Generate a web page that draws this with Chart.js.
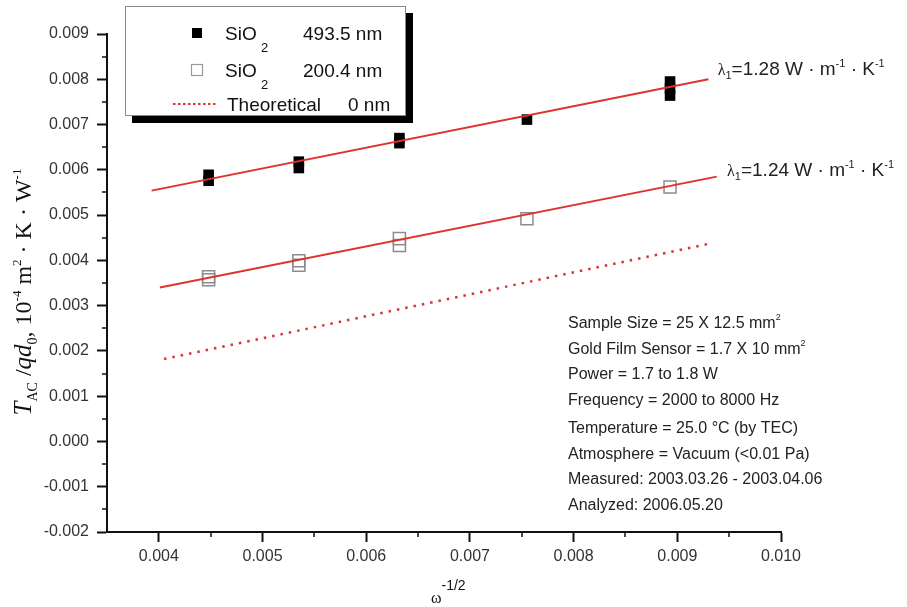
<!DOCTYPE html>
<html lang="en">
<head>
  <meta charset="UTF-8">
  <title>T_AC/qd0 vs omega^-1/2</title>
  <style>
    body {
      margin: 0;
      background: #fff;
    }
    #chart {
      display: block;
    }
  </style>
  <script src="https://cdn.jsdelivr.net/npm/chart.js"></script>
</head>
<body>
  <canvas id="chart" width="907" height="607"></canvas>
  <script>
    // measured points, SiO2 493.5 nm (some x have repeated runs)
    const thickX = [0.00448, 0.00448, 0.00535, 0.00535, 0.00632, 0.00632, 0.00755, 0.00893, 0.00893, 0.00893];
    const thickY = [0.00589, 0.00576, 0.00618, 0.00604, 0.00670, 0.00659, 0.00711, 0.00795, 0.00780, 0.00764];

    // measured points, SiO2 200.4 nm
    const thinX = [0.00448, 0.00448, 0.00535, 0.00535, 0.00632, 0.00632, 0.00755, 0.00893];
    const thinY = [0.00364, 0.00357, 0.00399, 0.00389, 0.00448, 0.00433, 0.00492, 0.00562];

    // linear fits and the theoretical 0 nm line (end points)
    const fitThickX = [0.00393, 0.00930];
    const fitThickY = [0.00554, 0.00800];
    const fitThinX = [0.00401, 0.00938];
    const fitThinY = [0.00340, 0.00585];
    const theoX = [0.00405, 0.00929];
    const theoY = [0.00182, 0.00436];

    const xTicks = [0.004, 0.005, 0.006, 0.007, 0.008, 0.009, 0.010];
    const yTicks = [-0.002, -0.001, 0.000, 0.001, 0.002, 0.003, 0.004, 0.005, 0.006, 0.007, 0.008, 0.009];

    const legendNames = ['SiO', 'SiO', 'Theoretical'];
    const legendSubs = ['2', '2', ''];
    const legendThick = ['493.5 nm', '200.4 nm', '0 nm'];
    const lambdaValues = ['1.28', '1.24'];

    const infoLines = [
      ['Sample Size = 25 X 12.5 mm', '2'],
      ['Gold Film Sensor = 1.7 X 10 mm', '2'],
      ['Power = 1.7 to 1.8 W', ''],
      ['Frequency = 2000 to 8000 Hz', ''],
      ['Temperature = 25.0 \u00B0C (by TEC)', ''],
      ['Atmosphere = Vacuum (<0.01 Pa)', ''],
      ['Measured: 2003.03.26 - 2003.04.06', ''],
      ['Analyzed: 2006.05.20', '']
    ];

    const RED = '#e0322c';
    const SANS = '"Liberation Sans", Arial, sans-serif';
    const SERIF = '"Liberation Serif", "Times New Roman", serif';

    const pts = (xs, ys) => xs.map((v, i) => ({ x: v, y: ys[i] }));

    // draw a run of text pieces (for sub/superscripts), returns end x
    function drawRuns(ctx, runs, x, y) {
      runs.forEach(r => {
        ctx.font = r.font;
        ctx.fillText(r.t, x, y + (r.dy || 0));
        x += ctx.measureText(r.t).width;
      });
      return x;
    }
    function runsWidth(ctx, runs) {
      let w = 0;
      runs.forEach(r => {
        ctx.font = r.font;
        w += ctx.measureText(r.t).width;
      });
      return w;
    }

    const minorTicks = {
      id: 'minorTicks',
      afterDraw(chart) {
        const { ctx, chartArea, scales: { x, y } } = chart;
        ctx.save();
        ctx.strokeStyle = '#111';
        ctx.lineWidth = 1.5;
        for (let i = 0; i < xTicks.length - 1; i++) {
          const px = Math.round(x.getPixelForValue((xTicks[i] + xTicks[i + 1]) / 2));
          ctx.beginPath();
          ctx.moveTo(px, chartArea.bottom);
          ctx.lineTo(px, chartArea.bottom + 5);
          ctx.stroke();
        }
        for (let i = 0; i < yTicks.length - 1; i++) {
          const py = Math.round(y.getPixelForValue((yTicks[i] + yTicks[i + 1]) / 2));
          ctx.beginPath();
          ctx.moveTo(chartArea.left, py);
          ctx.lineTo(chartArea.left - 5, py);
          ctx.stroke();
        }
        ctx.restore();
      }
    };

    const decorations = {
      id: 'decorations',
      afterDraw(chart) {
        const { ctx, chartArea, scales: { x, y } } = chart;
        ctx.save();
        ctx.textAlign = 'left';
        ctx.textBaseline = 'alphabetic';
        ctx.fillStyle = '#222';

        // lambda labels at the right end of each fit
        const lamPos = [[0.00939, 0.00810], [0.00948, 0.00587]];
        lambdaValues.forEach((val, i) => {
          const px = x.getPixelForValue(lamPos[i][0]);
          const py = y.getPixelForValue(lamPos[i][1]);
          drawRuns(ctx, [
            { t: '\u03BB', font: `16px ${SERIF}` },
            { t: '1', font: `11px ${SANS}`, dy: 4 },
            { t: `=${val} W \u00B7 m`, font: `19px ${SANS}` },
            { t: '-1', font: `11px ${SANS}`, dy: -8 },
            { t: ' \u00B7 K', font: `19px ${SANS}` },
            { t: '-1', font: `11px ${SANS}`, dy: -8 }
          ], px, py);
        });

        // info block
        infoLines.forEach((ln, i) => {
          const by = chartArea.top + 294 + i * 25.5 + (i >= 4 ? 3 : 0);
          drawRuns(ctx, [
            { t: ln[0], font: `16px ${SANS}` },
            { t: ln[1], font: `9px ${SANS}`, dy: -8 }
          ], 568, by);
        });

        // x axis title: omega^-1/2
        ctx.fillStyle = '#111';
        drawRuns(ctx, [
          { t: '\u03C9', font: `16px ${SERIF}` },
          { t: '-1/2', font: `14px ${SANS}`, dy: -13 }
        ], 431, 603);

        // y axis title, rotated
        const yRuns = [
          { t: 'T', font: `italic 25px ${SERIF}` },
          { t: 'AC', font: `14px ${SERIF}`, dy: 6 },
          { t: ' /', font: `24px ${SERIF}` },
          { t: 'qd', font: `italic 25px ${SERIF}` },
          { t: '0', font: `14px ${SERIF}`, dy: 6 },
          { t: ', 10', font: `24px ${SERIF}` },
          { t: '-4', font: `13px ${SERIF}`, dy: -10 },
          { t: ' m', font: `24px ${SERIF}` },
          { t: '2', font: `13px ${SERIF}`, dy: -10 },
          { t: ' \u00B7 K \u00B7 W', font: `24px ${SERIF}` },
          { t: '-1', font: `13px ${SERIF}`, dy: -10 }
        ];
        ctx.save();
        ctx.translate(31, 292);
        ctx.rotate(-Math.PI / 2);
        drawRuns(ctx, yRuns, -runsWidth(ctx, yRuns) / 2, 0);
        ctx.restore();

        // legend box with shadow
        ctx.fillStyle = '#000';
        ctx.fillRect(132, 13, 281, 110);
        ctx.fillStyle = '#fff';
        ctx.fillRect(125, 6, 281, 110);
        ctx.strokeStyle = '#8a8a8a';
        ctx.lineWidth = 1;
        ctx.strokeRect(125.5, 6.5, 280, 109);

        const rows = [33, 70, 104];
        rows.forEach((ry, i) => {
          if (i === 0) {
            ctx.fillStyle = '#000';
            ctx.fillRect(192, ry - 5, 10, 10);
          } else if (i === 1) {
            ctx.strokeStyle = '#999';
            ctx.lineWidth = 1.2;
            ctx.strokeRect(191.5, ry - 5.5, 11, 11);
          } else {
            ctx.strokeStyle = RED;
            ctx.lineWidth = 2;
            ctx.setLineDash([2.5, 2.5]);
            ctx.beginPath();
            ctx.moveTo(173, ry);
            ctx.lineTo(218, ry);
            ctx.stroke();
            ctx.setLineDash([]);
          }
          ctx.fillStyle = '#111';
          ctx.font = `19px ${SANS}`;
          if (i < 2) {
            ctx.fillText(legendNames[i], 225, ry + 7);
            ctx.font = `13px ${SANS}`;
            ctx.fillText(legendSubs[i], 261, ry + 19);
            ctx.font = `19px ${SANS}`;
            ctx.fillText(legendThick[i], 303, ry + 7);
          } else {
            ctx.fillText(legendNames[i], 227, ry + 7);
            ctx.fillText(legendThick[i], 348, ry + 7);
          }
        });
        ctx.restore();
      }
    };

    new Chart(document.getElementById('chart'), {
      type: 'scatter',
      data: {
        datasets: [
          {
            label: 'Fit 493.5 nm',
            data: pts(fitThickX, fitThickY),
            showLine: true,
            pointRadius: 0,
            borderColor: RED,
            borderWidth: 2
          },
          {
            label: 'Fit 200.4 nm',
            data: pts(fitThinX, fitThinY),
            showLine: true,
            pointRadius: 0,
            borderColor: RED,
            borderWidth: 2
          },
          {
            label: 'Theoretical 0 nm',
            data: pts(theoX, theoY),
            showLine: true,
            pointRadius: 0,
            borderColor: '#d8343a',
            borderWidth: 2.5,
            borderDash: [2.5, 6]
          },
          {
            label: 'SiO2 493.5 nm',
            data: pts(thickX, thickY),
            pointStyle: 'rect',
            pointRadius: 7.5,
            backgroundColor: '#000',
            borderWidth: 0
          },
          {
            label: 'SiO2 200.4 nm',
            data: pts(thinX, thinY),
            pointStyle: 'rect',
            pointRadius: 8.5,
            backgroundColor: 'rgba(255,255,255,0)',
            borderColor: '#8c8c8c',
            borderWidth: 1.5
          }
        ]
      },
      options: {
        responsive: false,
        animation: false,
        layout: { padding: { top: 34, right: 126, left: 0, bottom: 0 } },
        plugins: {
          legend: { display: false },
          tooltip: { enabled: false }
        },
        scales: {
          x: {
            type: 'linear',
            min: 0.0035,
            max: 0.010,
            afterBuildTicks: s => { s.ticks = xTicks.map(v => ({ value: v })); },
            afterFit: s => { s.height = 75; },
            ticks: {
              callback: v => v.toFixed(3),
              font: { family: SANS, size: 16 },
              color: '#333',
              padding: 5,
              maxRotation: 0
            },
            grid: { drawOnChartArea: false, tickLength: 10, tickColor: '#111', tickWidth: 2 },
            border: { color: '#111', width: 2 }
          },
          y: {
            type: 'linear',
            min: -0.002,
            max: 0.009,
            afterBuildTicks: s => { s.ticks = yTicks.map(v => ({ value: v })); },
            afterFit: s => { s.width = 107; },
            ticks: {
              callback: v => v.toFixed(3),
              font: { family: SANS, size: 16 },
              color: '#333',
              padding: 8
            },
            grid: { drawOnChartArea: false, tickLength: 10, tickColor: '#111', tickWidth: 2 },
            border: { color: '#111', width: 2 }
          }
        }
      },
      plugins: [minorTicks, decorations]
    });
  </script>
</body>
</html>
